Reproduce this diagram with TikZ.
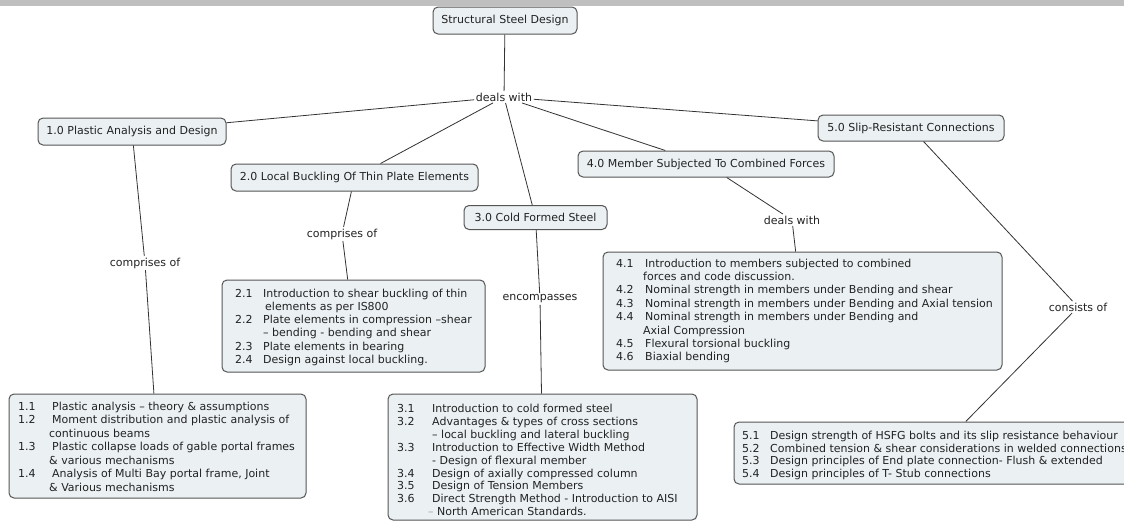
\documentclass[tikz,border=0pt]{standalone}
\usepackage{fontspec}
\setmainfont{DejaVu Sans}
\usetikzlibrary{calc}
\definecolor{boxfill}{HTML}{EBF0F3}
\definecolor{boxline}{HTML}{555555}
\definecolor{linkcol}{HTML}{333333}
\definecolor{bandgray}{HTML}{BFBFBF}
\definecolor{inkcol}{HTML}{222222}
\begin{document}
\begin{tikzpicture}[x=1pt,y=-1pt,
  every node/.style={font=\fontsize{11}{13.3}\selectfont, text=inkcol},
  concept/.style={draw=boxline, fill=boxfill, rounded corners=5pt, line width=1pt, inner sep=0pt},
  linkword/.style={inner sep=1.5pt},
  itemtext/.style={anchor=north west, align=left, inner sep=0pt},
  link/.style={draw=linkcol, line width=0.8pt}]

\clip (0,0) rectangle (1124,523);
\fill[white] (0,0) rectangle (1124,523);
% header strip
\fill[bandgray] (0,0) rectangle (1124,6);

% main concepts
\node[concept, minimum width=144, minimum height=27] (root) at (505,20.5) {Structural Steel Design};
\node[linkword] (lab0) at (504,97) {deals with};
\node[concept, minimum width=188, minimum height=27] (c1) at (132,131.5) {1.0 Plastic Analysis and Design};
\node[concept, minimum width=247, minimum height=27] (c2) at (354.5,177.5) {2.0 Local Buckling Of Thin Plate Elements};
\node[concept, minimum width=143, minimum height=24] (c3) at (535.5,217.5) {3.0 Cold Formed Steel};
\node[concept, minimum width=256, minimum height=26] (c4) at (706,164) {4.0 Member Subjected To Combined Forces};
\node[concept, minimum width=186, minimum height=26] (c5) at (911,128) {5.0 Slip-Resistant Connections};

% linking phrases
\node[linkword] (lab1) at (145,263) {comprises of};
\node[linkword] (lab2) at (342,234) {comprises of};
\node[linkword] (lab3) at (540,299) {encompasses};
\node[linkword] (lab4) at (792,220) {deals with};
\node[linkword] (lab5) at (1078,307) {consists of};

% topic boxes
\node[concept, minimum width=297, minimum height=104] (b1) at (157.5,446) {};
\node[concept, minimum width=263, minimum height=92] (b2) at (353.5,326) {};
\node[concept, minimum width=309, minimum height=126] (b3) at (542.5,457) {};
\node[concept, minimum width=399, minimum height=118] (b4) at (802.5,311) {};
\node[concept, minimum width=402, minimum height=62] (b5) at (935,453) {};

\node[itemtext, font=\fontsize{11}{13.5}\selectfont] (t1) at (18,400.5) {%
\strut\makebox[34pt][l]{1.1}Plastic analysis – theory \& assumptions\\
\makebox[34pt][l]{1.2}Moment distribution and plastic analysis of\\
\hspace*{31pt}continuous beams\\
\makebox[34pt][l]{1.3}Plastic collapse loads of gable portal frames\\
\hspace*{31pt}\& various mechanisms\\
\makebox[34pt][l]{1.4}Analysis of Multi Bay portal frame, Joint\\
\hspace*{31pt}\& Various mechanisms};

\node[itemtext, font=\fontsize{11}{13.2}\selectfont] (t2) at (235,287.8) {%
\strut\makebox[28pt][l]{2.1}Introduction to shear buckling of thin\\
\hspace*{30pt}elements as per IS800\\
\makebox[28pt][l]{2.2}Plate elements in compression –shear\\
\hspace*{28pt}– bending - bending and shear\\
\makebox[28pt][l]{2.3}Plate elements in bearing\\
\makebox[28pt][l]{2.4}Design against local buckling.};

\node[itemtext, font=\fontsize{11}{12.9}\selectfont] (t3) at (397,403.3) {%
\strut\makebox[35pt][l]{3.1}Introduction to cold formed steel\\
\makebox[35pt][l]{3.2}Advantages \& types of cross sections\\
\hspace*{35pt}– local buckling and lateral buckling\\
\makebox[35pt][l]{3.3}Introduction to Effective Width Method\\
\hspace*{35pt}- Design of flexural member\\
\makebox[35pt][l]{3.4}Design of axially compressed column\\
\makebox[35pt][l]{3.5}Design of Tension Members\\
\makebox[35pt][l]{3.6}Direct Strength Method - Introduction to AISI\\
\hspace*{31pt}{\color{black!35}–} North American Standards.};

\node[itemtext, font=\fontsize{11}{13.4}\selectfont] (t4) at (616,257.6) {%
\strut\makebox[29pt][l]{4.1}Introduction to members subjected to combined\\
\hspace*{27pt}forces and code discussion.\\
\makebox[29pt][l]{4.2}Nominal strength in members under Bending and shear\\
\makebox[29pt][l]{4.3}Nominal strength in members under Bending and Axial tension\\
\makebox[29pt][l]{4.4}Nominal strength in members under Bending and\\
\hspace*{27pt}Axial Compression\\
\makebox[29pt][l]{4.5}Flexural torsional buckling\\
\makebox[29pt][l]{4.6}Biaxial bending};

\node[itemtext, font=\fontsize{11}{12.5}\selectfont] (t5) at (742,431) {%
\strut\makebox[28pt][l]{5.1}Design strength of HSFG bolts and its slip resistance behaviour\\
\makebox[28pt][l]{5.2}Combined tension \& shear considerations in welded connections\\
\makebox[28pt][l]{5.3}Design principles of End plate connection- Flush \& extended\\
\makebox[28pt][l]{5.4}Design principles of T- Stub connections};

% connectors
\draw[link] (root) -- (lab0);
\draw[link] (lab0) -- (c1);
\draw[link] (lab0) -- (c2);
\draw[link] (lab0) -- (c3);
\draw[link] (lab0) -- (c4);
\draw[link] (lab0) -- (c5);
\draw[link] (c1) -- (lab1);
\draw[link] (lab1) -- (b1);
\draw[link] (c2) -- (lab2);
\draw[link] (lab2) -- (b2);
\draw[link] (c3) -- (lab3);
\draw[link] (lab3) -- (b3);
\draw[link] (c4) -- (lab4);
\draw[link] (lab4) -- (b4);
\draw[link] (c5) -- (lab5);
\draw[link] (lab5) -- (b5);
\end{tikzpicture}
\end{document}
